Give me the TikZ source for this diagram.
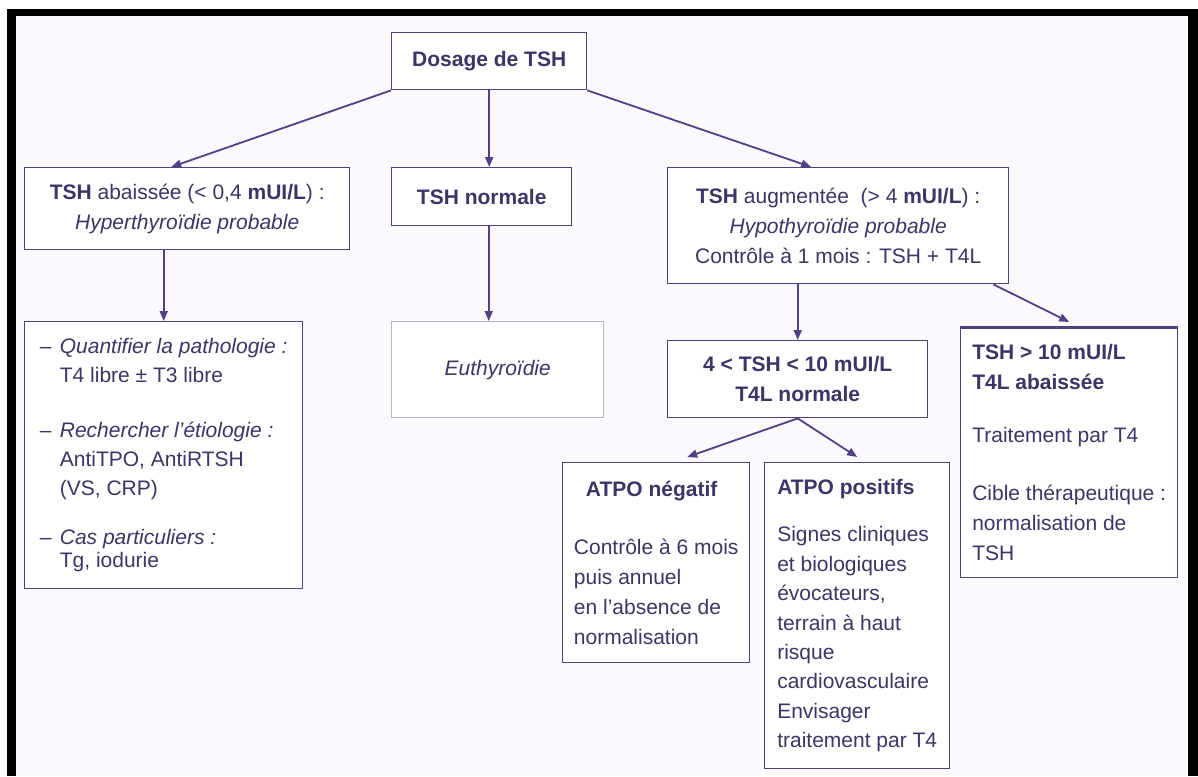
\documentclass[tikz,border=0pt]{standalone}
\usepackage{fontspec}
\setmainfont{Liberation Sans}
\usepackage{tikz}
\usetikzlibrary{arrows.meta,calc}

\definecolor{lavbg}{RGB}{251,248,254}
\definecolor{linepurple}{RGB}{82,64,132}
\definecolor{textpurple}{RGB}{62,52,102}
\definecolor{palebox}{RGB}{186,178,208}

\begin{document}
\begin{tikzpicture}[x=1pt,y=-1pt,
    box/.style={draw=linepurple, fill=white, line width=1.4pt, inner sep=0pt,
      anchor=north west, text=textpurple, font=\fontsize{21}{30}\selectfont},
    arr/.style={draw=linepurple, line width=1.8pt, -{Triangle[length=10pt,width=8pt]}}]
  \useasboundingbox (0,0) rectangle (1198,776);
  \fill[white] (0,0) rectangle (1198,776);
  \fill[lavbg] (16,16) rectangle (1188,776);
  % black frame
  \fill[black] (7,9) rectangle (1198,16);
  \fill[black] (7,9) rectangle (16,776);
  \fill[black] (1188,9) rectangle (1198,776);

  % first level
  \node[box, minimum width=195pt, minimum height=57pt] (dos) at (391,32) {\textbf{Dosage de TSH}};
  \node[box, minimum width=325pt, minimum height=82pt, align=center] (abs) at (24,167)
    {\textbf{TSH} abaissée (< 0,4 \textbf{mUI/L}) :\\\textit{Hyperthyroïdie probable}};
  \node[box, minimum width=180pt, minimum height=58pt] (nor) at (391,167) {\textbf{TSH normale}};
  \node[box, minimum width=341pt, minimum height=116pt, align=center] (aug) at (667,167)
    {\textbf{TSH} augmentée\ \ (> 4 \textbf{mUI/L}) :\\\textit{Hypothyroïdie probable}\\Contrôle à 1 mois : TSH + T4L};

  % second level
  \node[box, minimum width=278pt, minimum height=267pt, align=left, font=\fontsize{21}{29}\selectfont] (pat) at (24,321)
    {\makebox[20pt][l]{–}\textit{Quantifier la pathologie :}\\
     \hspace*{20pt}T4 libre ± T3 libre\\[26pt]
     \makebox[20pt][l]{–}\textit{Rechercher l’étiologie :}\\
     \hspace*{20pt}AntiTPO, AntiRTSH\\
     \hspace*{20pt}(VS, CRP)\\[20pt]
     \makebox[20pt][l]{–}\textit{Cas particuliers :}\\[-6pt]
     \hspace*{20pt}Tg, iodurie};
  \node[box, draw=palebox, minimum width=212pt, minimum height=96pt] (eut) at (391,321) {\textit{Euthyroïdie}};
  \node[box, minimum width=260pt, minimum height=77pt, align=center] (mid) at (667,340)
    {\textbf{4 < TSH < 10 mUI/L}\\\textbf{T4L normale}};
  \node[box, minimum width=217pt, minimum height=250pt, align=left] (t10) at (960,327)
    {\textbf{TSH > 10 mUI/L}\\\textbf{T4L abaissée}\\[23pt]
     Traitement par T4\\[28pt]
     Cible thérapeutique :\\normalisation de\\TSH};
  \draw[linepurple, line width=3pt] (t10.north west) -- (t10.north east);

  % third level
  \node[box, minimum width=187pt, minimum height=200pt, align=left] (neg) at (562,462)
    {\hspace*{12pt}\textbf{ATPO négatif}\\[28pt]
     Contrôle à 6 mois\\puis annuel\\en l’absence de\\normalisation};
  \node[box, minimum width=185pt, minimum height=306pt, align=left, font=\fontsize{21}{29.4}\selectfont] (pos) at (764,462)
    {\textbf{ATPO positifs}\\[18pt]
     Signes cliniques\\et biologiques\\évocateurs,\\terrain à haut\\risque\\cardiovasculaire\\Envisager\\traitement par T4};

  % arrows
  \draw[arr] (dos.south west) -- ([xshift=-16pt]abs.north);
  \draw[arr] (dos.south) -- (dos.south |- nor.north);
  \draw[arr] (dos.south east) -- ([xshift=-27pt]aug.north);
  \draw[arr] (pat.north |- abs.south) -- (pat.north);
  \draw[arr] ([xshift=7pt]nor.south) -- ([xshift=7pt]nor.south |- eut.north);
  \draw[arr] (mid.north |- aug.south) -- (mid.north);
  \draw[arr] ([xshift=-16pt]aug.south east) -- ([yshift=5pt]t10.north);
  \draw[arr] (mid.south) -- ([xshift=31pt,yshift=5pt]neg.north);
  \draw[arr] (mid.south) -- ([yshift=5pt]pos.north);
\end{tikzpicture}
\end{document}
